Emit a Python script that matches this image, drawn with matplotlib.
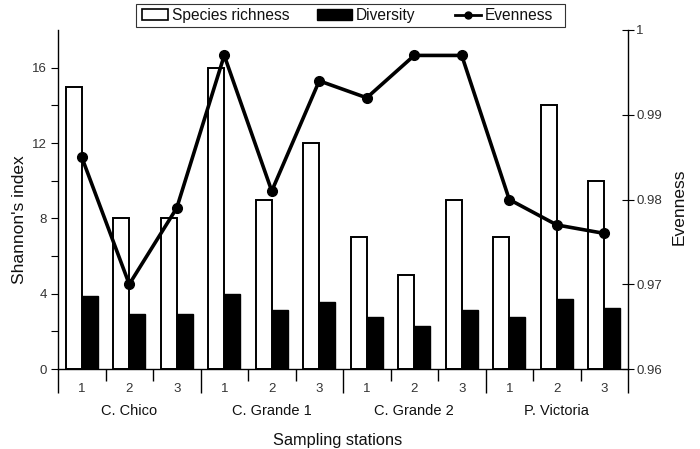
import numpy as np
import matplotlib
matplotlib.use("Agg")
import matplotlib.pyplot as plt
from matplotlib.patches import Rectangle
from matplotlib.lines import Line2D

plt.rcParams['font.family'] = ['Liberation Sans', 'DejaVu Sans']

sites = ["C. Chico", "C. Grande 1", "C. Grande 2", "P. Victoria"]
stations = ["1", "2", "3"] * 4
richness = [15, 8, 8, 16, 9, 12, 7, 5, 9, 7, 14, 10]
diversity = [3.86, 2.90, 2.92, 3.98, 3.11, 3.57, 2.77, 2.29, 3.15, 2.76, 3.72, 3.24]
evenness = [0.985, 0.970, 0.979, 0.997, 0.981, 0.994, 0.992, 0.997, 0.997, 0.980, 0.977, 0.976]

W, H = 700, 449
fig = plt.figure(figsize=(W / 100, H / 100), dpi=100)
ax = fig.add_axes([58 / W, 1 - 369 / H, 570 / W, 339 / H])


def fx(px):
    return px / W


def fy(py):
    return 1 - py / H


x = np.arange(len(richness)) + 0.5
w = 0.335
ax.bar(x - w / 2, richness, w, color='white', edgecolor='black', linewidth=1.4)
ax.bar(x + w / 2, diversity, w, color='black', edgecolor='black', linewidth=1.0)

ax.set_xlim(0, 12)
ax.set_ylim(0, 18)
ax.spines['top'].set_visible(False)
ax.spines['right'].set_visible(False)
for s in ['left', 'bottom']:
    ax.spines[s].set_linewidth(1.0)

# x axis: long ticks between sites, short ticks between stations
ax.set_xticks([0, 3, 6, 9, 12])
ax.set_xticklabels([])
ax.set_xticks([1, 2, 4, 5, 7, 8, 10, 11], minor=True)
ax.tick_params(axis='x', which='major', length=17, width=1.0)
ax.tick_params(axis='x', which='minor', length=8.5, width=1.0)

ax.set_yticks([0, 4, 8, 12, 16])
ax.set_yticks([2, 6, 10, 14], minor=True)
ax.tick_params(axis='y', which='both', length=5, width=0.8, labelsize=9.5,
               labelcolor='#333333', pad=3)

for xi, lab in zip(x, stations):
    ax.text(xi, -0.06, lab, transform=ax.get_xaxis_transform(), ha='center',
            va='center', fontsize=9.5, color='#333333')
for i, site in enumerate(sites):
    ax.text(3 * i + 1.5, -0.125, site, transform=ax.get_xaxis_transform(),
            ha='center', va='center', fontsize=10.5, color='#111111')

ax.set_ylabel("Shannon's index", fontsize=12.5, color='#111111')
ax.yaxis.set_label_coords(-0.055, 0.442)
fig.text(fx(338), fy(440), "Sampling stations", ha='center', va='center',
         fontsize=11.8, color='#111111')

ax2 = ax.twinx()
ax2.plot(x, evenness, color='black', linewidth=2.6, marker='o', markersize=7)
ax2.set_ylim(0.96, 1.0)
ax2.set_yticks([0.96, 0.97, 0.98, 0.99, 1.0])
ax2.set_yticklabels(["0.96", "0.97", "0.98", "0.99", "1"])
ax2.tick_params(axis='y', direction='inout', length=8, width=0.8, labelsize=9.5,
                labelcolor='#333333', pad=2)
for s in ['top', 'left', 'bottom']:
    ax2.spines[s].set_visible(False)
ax2.spines['right'].set_linewidth(1.0)
ax2.set_ylabel("Evenness", fontsize=12.5, color='#111111')
ax2.yaxis.set_label_coords(1.076, 0.478)

# legend box above the plot, laid out by hand
fig.add_artist(Rectangle((fx(136), fy(27)), fx(565) - fx(136), fy(4) - fy(27),
                         transform=fig.transFigure, facecolor='white',
                         edgecolor='#333333', linewidth=0.8))
fig.add_artist(Rectangle((fx(142), fy(19.5)), fx(168) - fx(142), fy(9.5) - fy(19.5),
                         transform=fig.transFigure, facecolor='white',
                         edgecolor='black', linewidth=1.2))
fig.add_artist(Rectangle((fx(317), fy(19.5)), fx(352) - fx(317), fy(9.5) - fy(19.5),
                         transform=fig.transFigure, facecolor='black',
                         edgecolor='black', linewidth=1.0))
fig.add_artist(Line2D([fx(455), fx(481)], [fy(15), fy(15)], transform=fig.transFigure,
                      color='black', linewidth=2.0))
fig.add_artist(Line2D([fx(468)], [fy(15)], transform=fig.transFigure,
                      color='black', marker='o', markersize=5))
for px, lab in [(172.5, "Species richness"), (356, "Diversity"), (484.5, "Evenness")]:
    fig.text(fx(px), fy(15.5), lab, ha='left', va='center', fontsize=11.2,
             color='#111111')

fig.savefig("out.png", dpi=100)
